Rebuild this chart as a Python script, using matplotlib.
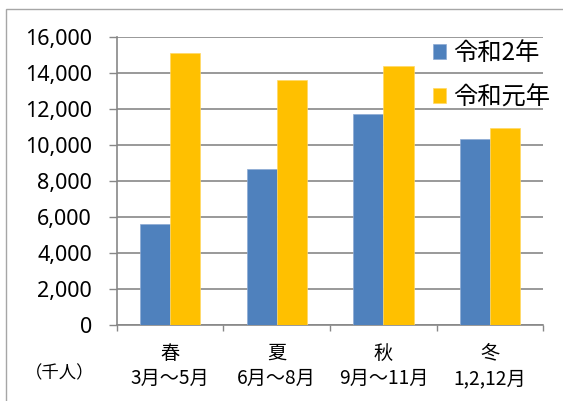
import matplotlib
matplotlib.use("Agg")
import matplotlib.pyplot as plt
import numpy as np
from matplotlib.patches import Rectangle

# データ（千人）
categories = ["春\n3月～5月", "夏\n6月～8月", "秋\n9月～11月", "冬\n1,2,12月"]
series_names = ["令和2年", "令和元年"]
r2_values = [5600, 8650, 11720, 10330]
r1_values = [15110, 13580, 14360, 10910]
y_ticks = [0, 2000, 4000, 6000, 8000, 10000, 12000, 14000, 16000]

blue = "#4F81BD"
yellow = "#FFC000"
grid_gray = "#878787"

cjk = ["Noto Sans CJK JP", "DejaVu Sans"]

W, H = 563, 401
fig = plt.figure(figsize=(W / 100, H / 100), dpi=100)
ax = fig.add_axes([116.7 / W, 76.3 / H, 426.7 / W, 288 / H])

x = np.arange(len(categories))
w = 0.283
ax.bar(x - w / 2, r2_values, w, color=blue, edgecolor="#8DAAD3",
       linewidth=0.5, label=series_names[0], zorder=3)
ax.bar(x + w / 2, r1_values, w, color=yellow, edgecolor="#FFD866",
       linewidth=0.5, label=series_names[1], zorder=3)

ax.set_xlim(-0.5, len(categories) - 0.5)
ax.set_ylim(0, 16000)

# y軸
ax.set_yticks(y_ticks)
ax.set_yticklabels([f"{v:,}" for v in y_ticks], family="Noto Sans", fontsize=15.5)
ax.yaxis.grid(True, color=grid_gray, linewidth=1.2, zorder=0)
ax.tick_params(axis="y", length=5.8, width=1.0, color=grid_gray, pad=12)

# x軸（区切りに目盛り）
ax.set_xticks(x)
ax.set_xticklabels(categories, family=cjk, fontsize=13.8, linespacing=1.28)
ax.tick_params(axis="x", which="major", length=0, pad=13)
ax.set_xticks(np.arange(-0.5, len(categories)), minor=True)
ax.tick_params(axis="x", which="minor", length=4.3, width=1.0, color=grid_gray)

for s in ["top", "right"]:
    ax.spines[s].set_visible(False)
for s in ["left", "bottom"]:
    ax.spines[s].set_color(grid_gray)
    ax.spines[s].set_linewidth(1.2)
ax.set_axisbelow(True)

leg = ax.legend(loc="upper left", bbox_to_anchor=(433 / W, 1 - 40 / H),
                bbox_transform=fig.transFigure, frameon=False,
                prop={"family": cjk, "size": 17.5}, handlelength=0.55,
                handleheight=0.55, handletextpad=0.3, labelspacing=0.75,
                borderpad=0, borderaxespad=0)

fig.text(25 / W, 1 - 373 / H, "（千人）", family=cjk, fontsize=12.5,
         ha="left", va="center")

# 外枠
fig.patches.append(Rectangle((6 / W, -0.1), 1.2, 1.1 - 9 / H,
                             transform=fig.transFigure, fill=False,
                             edgecolor="#A6A6A6", linewidth=1.0))

fig.savefig("out.png", dpi=100)
